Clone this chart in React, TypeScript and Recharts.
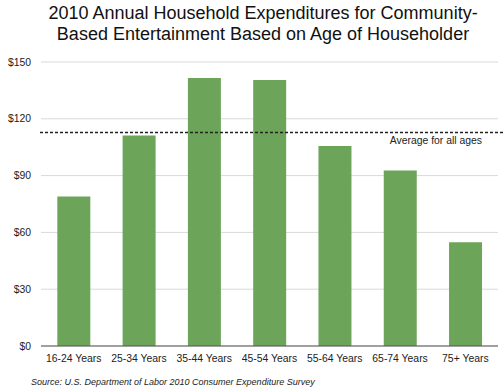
import { BarChart, Bar, XAxis, YAxis, CartesianGrid, ReferenceLine } from 'recharts';

const AGE_GROUPS = [
  '16-24 Years',
  '25-34 Years',
  '35-44 Years',
  '45-54 Years',
  '55-64 Years',
  '65-74 Years',
  '75+ Years',
];
const SPENDING = [79, 111.2, 141.6, 140.5, 105.6, 92.7, 54.8];
const AVERAGE_ALL_AGES = 112.8;
const Y_TICKS = [0, 30, 60, 90, 120, 150];

const TITLE_LINES = [
  '2010 Annual Household Expenditures for Community-',
  'Based Entertainment Based on Age of Householder',
];
const SOURCE = 'Source: U.S. Department of Labor 2010 Consumer Expenditure Survey';

const FONT = '"Liberation Sans", Arial, Helvetica, sans-serif';
const BAR_GREEN = '#6ca55a';

const chartData = AGE_GROUPS.map((age, i) => ({ age, spending: SPENDING[i] }));

// dashed average line runs a little past the plot to the edge of the picture
function AverageLine(props: any) {
  const { x1, y1, x2 } = props;
  return (
    <line
      x1={x1 - 1}
      y1={y1}
      x2={x2 + 6}
      y2={y1}
      stroke="#222"
      strokeWidth={1.5}
      strokeDasharray="3 2"
    />
  );
}

function AverageLabel(props: any) {
  const { viewBox } = props;
  if (!viewBox) return null;
  return (
    <text
      x={viewBox.x + viewBox.width - 16}
      y={viewBox.y + 12}
      textAnchor="end"
      fontSize={10.4}
      fontFamily={FONT}
      fill="#222"
    >
      Average for all ages
    </text>
  );
}

export default function App() {
  return (
    <div
      style={{
        position: 'absolute',
        top: 0,
        left: 0,
        width: 504,
        height: 392,
        background: '#fff',
        fontFamily: FONT,
      }}
    >
      {TITLE_LINES.map((line, i) => (
        <div
          key={line}
          style={{
            position: 'absolute',
            left: 0,
            width: 526,
            top: 3 + i * 21,
            textAlign: 'center',
            fontSize: 18,
            lineHeight: '21px',
            color: '#111',
            whiteSpace: 'nowrap',
          }}
        >
          {line}
        </div>
      ))}

      <BarChart
        width={504}
        height={392}
        data={chartData}
        margin={{ top: 62, right: 6, bottom: 16, left: 0 }}
        barCategoryGap="25%"
      >
        <CartesianGrid vertical={false} stroke="#d9d9d9" strokeWidth={1} />
        <XAxis
          dataKey="age"
          height={30}
          axisLine={{ stroke: '#555', strokeWidth: 1 }}
          tickLine={false}
          tickMargin={3}
          interval={0}
          tick={{ fontSize: 10.4, fill: '#222', fontFamily: FONT }}
        />
        <YAxis
          width={41}
          domain={[0, 150]}
          ticks={Y_TICKS}
          axisLine={false}
          tickLine={false}
          tickMargin={4}
          tickFormatter={(v: number) => `$${v}`}
          tick={{ fontSize: 10.4, fill: '#222', fontFamily: FONT }}
        />
        <Bar dataKey="spending" fill={BAR_GREEN} isAnimationActive={false} />
        <ReferenceLine
          y={AVERAGE_ALL_AGES}
          shape={AverageLine}
          label={<AverageLabel />}
        />
      </BarChart>

      <div
        style={{
          position: 'absolute',
          left: 31,
          top: 377,
          fontSize: 9,
          fontStyle: 'italic',
          color: '#222',
          whiteSpace: 'nowrap',
        }}
      >
        {SOURCE}
      </div>
    </div>
  );
}
